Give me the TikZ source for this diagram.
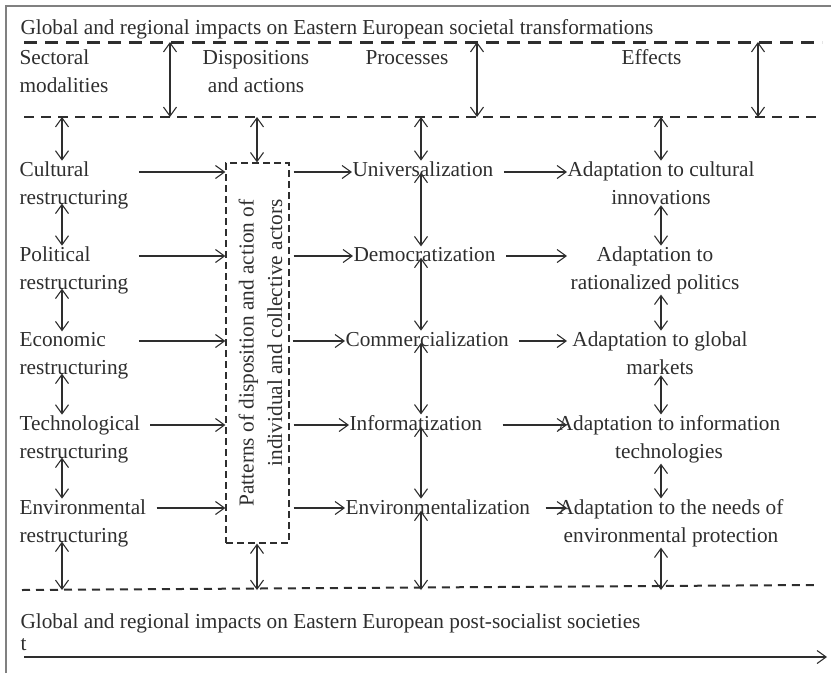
\documentclass[tikz,border=0pt]{standalone}
\usepackage{fontspec}
\setmainfont{Liberation Serif}
\usepackage{tikz}
\usetikzlibrary{arrows.meta}

\begin{document}
\begin{tikzpicture}[x=1pt, y=-1pt, line width=1.1pt, color=black!82,
        >={Straight Barb[length=9pt,width=13pt]},
        every node/.style={inner sep=0pt, font=\fontsize{21.3}{28.5}\selectfont},
        txt/.style={anchor=base west, align=left},
        eff/.style={anchor=base, align=center},
        link/.style={->, shorten <=#1}, link/.default=10pt,
        vlink/.style={<->},
        thickdash/.style={line width=3pt, dash pattern=on 13pt off 8pt},
        thindash/.style={line width=2pt, dash pattern=on 10pt off 7pt},
        lowdash/.style={line width=2pt, dash pattern=on 8pt off 6pt}]
        \useasboundingbox (0,0) rectangle (831,673);
        % frame
        \draw[gray, line width=2pt] (6,673) -- (6,6) -- (831,6);

        % bands
        \coordinate (L1w) at (24,42);  \coordinate (L1e) at (822,42);
        \coordinate (L2w) at (24,117); \coordinate (L2e) at (822,117);
        \coordinate (L3w) at (22,590); \coordinate (L3e) at (815,585);
        \draw[thickdash] (L1w) -- (L1e);
        \draw[thindash] (L2w) -- (L2e);
        \draw[lowdash] (L3w) -- (L3e);

        % columns and rows
        \coordinate (c1) at (170,0); \coordinate (c2) at (477,0); \coordinate (c3) at (758,0);
        \coordinate (cA) at (62,0);  \coordinate (cB) at (257,0);
        \coordinate (cC) at (421,0); \coordinate (cD) at (661,0);
        \coordinate (ein) at (567,0);
        \coordinate (r1) at (0,172); \coordinate (r2) at (0,256); \coordinate (r3) at (0,341);
        \coordinate (r4) at (0,425); \coordinate (r5) at (0,508);

        % (two-line nodes sit on their last baseline)
        \node[txt] (top) at (20,34) {Global and regional impacts on Eastern European societal transformations};
        \node[txt] (hsec) at (19,92.5) {Sectoral\\modalities};
        \node[eff] (hdis) at (256,92.5) {Dispositions\\and actions};
        \node[txt] (hpro) at (365,64) {Processes};
        \node[txt] (heff) at (621,64) {Effects};

        \draw[vlink] (c1 |- L1w) -- (c1 |- L2w);
        \draw[vlink] (c2 |- L1w) -- (c2 |- L2w);
        \draw[vlink] (c3 |- L1w) -- (c3 |- L2w);

        % sectoral modalities
        \node[txt] (cul) at (19,204.5) {Cultural\\restructuring};
        \node[txt] (pol) at (19,289.5) {Political\\restructuring};
        \node[txt] (eco) at (19,374.5) {Economic\\restructuring};
        \node[txt] (tec) at (19,458.5) {Technological\\restructuring};
        \node[txt] (envr) at (19,542.5) {Environmental\\restructuring};

        % dispositions
        \node[draw, line width=1.2pt, dash pattern=on 7pt off 4pt,
              minimum width=63pt, minimum height=380pt] (box) at (257.5,353) {};
        \node[rotate=90, align=right] (pat) at ([xshift=3pt]box.center)
              {Patterns of disposition and action of\\individual and collective actors};

        % processes
        \node[txt] (uni) at (352,176) {Universalization};
        \node[txt] (dem) at (353,261) {Democratization};
        \node[txt] (com) at (345,346) {Commercialization};
        \node[txt] (inf) at (349,430) {Informatization};
        \node[txt] (envz) at (345,514) {Environmentalization};

        % effects
        \node[eff] (acul) at (661,204.5) {Adaptation to cultural\\innovations};
        \node[eff] (apol) at (655,289.5) {Adaptation to\\rationalized politics};
        \node[eff] (aeco) at (660,374.5) {Adaptation to global\\markets};
        \node[eff] (atec) at (669,458.5) {Adaptation to information\\technologies};
        \node[eff] (aenv) at (671,542.5) {Adaptation to the needs of\\environmental protection};

        % horizontal links
        \draw[link] (cul.east |- r1) -- (box.west |- r1);
        \draw[link] (pol.east |- r2) -- (box.west |- r2);
        \draw[link] (eco.east |- r3) -- (box.west |- r3);
        \draw[link] (tec.east |- r4) -- (box.west |- r4);
        \draw[link] (envr.east |- r5) -- (box.west |- r5);
        \draw[link=4pt] (box.east |- r1) -- (uni.west |- r1);
        \draw[link=4pt] (box.east |- r2) -- (dem.west |- r2);
        \draw[link=3pt] (box.east |- r3) -- (com.west |- r3);
        \draw[link=4pt] (box.east |- r4) -- (inf.west |- r4);
        \draw[link=4pt] (box.east |- r5) -- (envz.west |- r5);
        \draw[link] (uni.east |- r1) -- (ein |- r1);
        \draw[link] (dem.east |- r2) -- (ein |- r2);
        \draw[link] (com.east |- r3) -- (ein |- r3);
        \draw[link=20pt] (inf.east |- r4) -- (ein |- r4);
        \draw[link=15pt] (envz.east |- r5) -- (ein |- r5);

        % vertical links
        \draw[vlink] (cA |- L2w) -- (cul.north -| cA);
        \draw[vlink, shorten <=-6pt] (cul.south -| cA) -- (pol.north -| cA);
        \draw[vlink, shorten <=-6pt] (pol.south -| cA) -- (eco.north -| cA);
        \draw[vlink, shorten <=-6pt] (eco.south -| cA) -- (tec.north -| cA);
        \draw[vlink, shorten <=-6pt] (tec.south -| cA) -- (envr.north -| cA);
        \draw[vlink, shorten <=-6pt] (envr.south -| cA) -- (cA |- L3w);

        \draw[vlink] (cB |- L2w) -- (box.north -| cB);
        \draw[vlink] (box.south -| cB) -- (cB |- L3w);

        \draw[vlink] (cC |- L2w) -- (uni.north -| cC);
        \draw[vlink, shorten <=-4pt] (uni.south -| cC) -- (dem.north -| cC);
        \draw[vlink, shorten <=-4pt] (dem.south -| cC) -- (com.north -| cC);
        \draw[vlink, shorten <=-4pt] (com.south -| cC) -- (inf.north -| cC);
        \draw[vlink, shorten <=-4pt] (inf.south -| cC) -- (envz.north -| cC);
        \draw[vlink, shorten <=-4pt] (envz.south -| cC) -- (cC |- L3w);

        \draw[vlink] (cD |- L2w) -- (acul.north -| cD);
        \draw[vlink] (acul.south -| cD) -- (apol.north -| cD);
        \draw[vlink] (apol.south -| cD) -- (aeco.north -| cD);
        \draw[vlink] (aeco.south -| cD) -- (atec.north -| cD);
        \draw[vlink] (atec.south -| cD) -- (aenv.north -| cD);
        \draw[vlink] (aenv.south -| cD) -- (cD |- L3w);

        % bottom
        \node[txt] (bot) at (20,628) {Global and regional impacts on Eastern European post-socialist societies};
        \node[txt] (tt) at (20,650) {t};
        \coordinate (tl) at (24,657); \coordinate (tr) at (827,657);
        \draw[->] (tl) -- (tr);
\end{tikzpicture}
\end{document}
